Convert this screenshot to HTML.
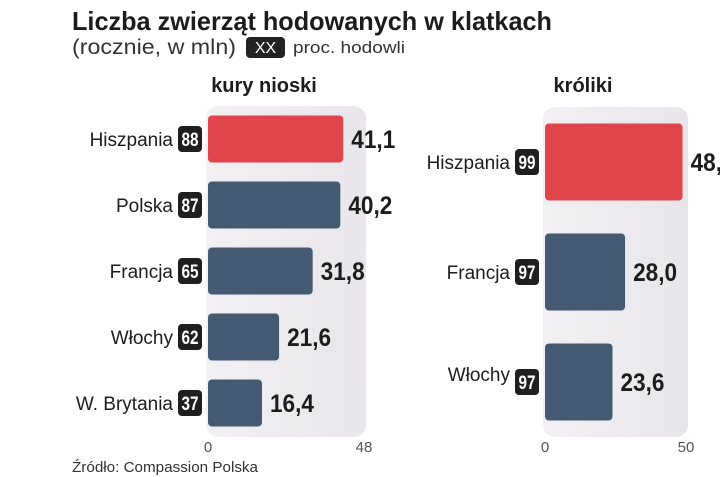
<!DOCTYPE html>
<html><head><meta charset="utf-8">
<style>
html,body{margin:0;padding:0;width:720px;height:477px;overflow:hidden;background:#fff;}
svg{display:block;font-family:"Liberation Sans",sans-serif;}
.t{font-family:"Liberation Sans",sans-serif;}
</style></head>
<body>
<svg id="chart" width="720" height="477" viewBox="0 0 720 477">
  <defs>
    <linearGradient id="pg" x1="0" y1="0" x2="1" y2="0">
      <stop offset="0" stop-color="#f2f0f3"/><stop offset="1" stop-color="#e9e6eb"/>
    </linearGradient>
  </defs>
  <text class="t" x="72" y="30" font-size="26" font-weight="bold" fill="#1c1c1c" textLength="480" lengthAdjust="spacingAndGlyphs">Liczba zwierząt hodowanych w klatkach</text>
  <text class="t" x="72" y="54" font-size="21" font-weight="300" fill="#333" textLength="164" lengthAdjust="spacingAndGlyphs">(rocznie, w mln)</text>
  <rect x="246" y="37" width="39" height="21" rx="4" fill="#222"/>
  <text x="265.5" y="53" font-size="16" fill="#fff" text-anchor="middle">XX</text>
  <text class="t" x="293" y="53" font-size="17" fill="#333" textLength="112" lengthAdjust="spacingAndGlyphs">proc. hodowli</text>
  <g id="left"></g>
  <g id="right"></g>
  <text class="t" x="72" y="472" font-size="15" fill="#333" textLength="186" lengthAdjust="spacingAndGlyphs">Źródło: Compassion Polska</text>
</svg>
<script>
const NS="http://www.w3.org/2000/svg";
const henCategories=["Hiszpania","Polska","Francja","Włochy","W. Brytania"];
const henValues=[41.1,40.2,31.8,21.6,16.4];
const henPercents=[88,87,65,62,37];
const henValueLabels=["41,1","40,2","31,8","21,6","16,4"];
const henMax=48;
const rabbitCategories=["Hiszpania","Francja","Włochy"];
const rabbitValues=[48.1,28.0,23.6];
const rabbitPercents=[99,97,97];
const rabbitValueLabels=["48,1","28,0","23,6"];
const rabbitMax=50;

function mk(parent,tag,attrs,text){const e=document.createElementNS(NS,tag);for(const k in attrs)e.setAttribute(k,attrs[k]);if(text!=null)e.textContent=text;parent.appendChild(e);return e;}

function drawPanel(g,cfg){
  const x=v=>cfg.x0+v/cfg.max*(cfg.x1-cfg.x0);
  const p=mk(g,"rect",{x:cfg.x0-2,y:cfg.py0,width:cfg.x1-cfg.x0+2,height:cfg.py1-cfg.py0,rx:12,fill:"url(#pg)"});
  
  
  const tt=mk(g,"text",{x:cfg.titleX,y:92,"font-size":20,"font-weight":"bold",fill:"#1c1c1c","text-anchor":"middle",class:"t"},cfg.title);
  
  
  const n=cfg.cats.length;
  const band=(cfg.by1-cfg.by0)/n;
  cfg.cats.forEach((c,i)=>{
    const y=cfg.by0+i*band+(band-cfg.bh)/2, cy=y+cfg.bh/2;
    const b=mk(g,"rect",{x:x(0),y:y,width:x(cfg.vals[i])-x(0),height:cfg.bh,rx:4,fill:i===0?"#e0454b":"#435a72"});
    
    
    const bd=mk(g,"rect",{x:x(0)-30,y:cy-13,width:24,height:26,rx:4,fill:"#1f1f1f"});
    
    
    const bt=mk(g,"text",{x:x(0)-26.5,y:cy+7,"font-size":19,"font-weight":"bold",fill:"#fff",textLength:17,lengthAdjust:"spacingAndGlyphs"},cfg.pcts[i]);
    
    
    const lt=mk(g,"text",{x:x(0)-35,y:cy+7-(cfg.lift&&i===n-1?cfg.lift:0),"font-size":19,fill:"#1c1c1c","text-anchor":"end",class:"t"},c);
    
    
    const vt=mk(g,"text",{x:x(cfg.vals[i])+8,y:cy+9,"font-size":25,"font-weight":"bold",fill:"#1c1c1c",textLength:44,lengthAdjust:"spacingAndGlyphs"},cfg.labels[i]);
    
    
  });
  [0,cfg.max].forEach(v=>{
    const t=mk(g,"text",{x:x(v)-(v?2:0),y:452,"font-size":15,fill:"#555","text-anchor":"middle",class:"t"},v);
    
    
  });
}
drawPanel(document.getElementById("left"),{cats:henCategories,vals:henValues,pcts:henPercents,labels:henValueLabels,max:henMax,x0:208,x1:366,py0:106,py1:437,by0:106,by1:436,bh:47,title:"kury nioski",titleX:264});
drawPanel(document.getElementById("right"),{cats:rabbitCategories,vals:rabbitValues,pcts:rabbitPercents,labels:rabbitValueLabels,max:rabbitMax,x0:545,x1:688,py0:107,py1:437,by0:107,by1:437,bh:77,title:"króliki",titleX:583,lift:8});
</script>
</body></html>
